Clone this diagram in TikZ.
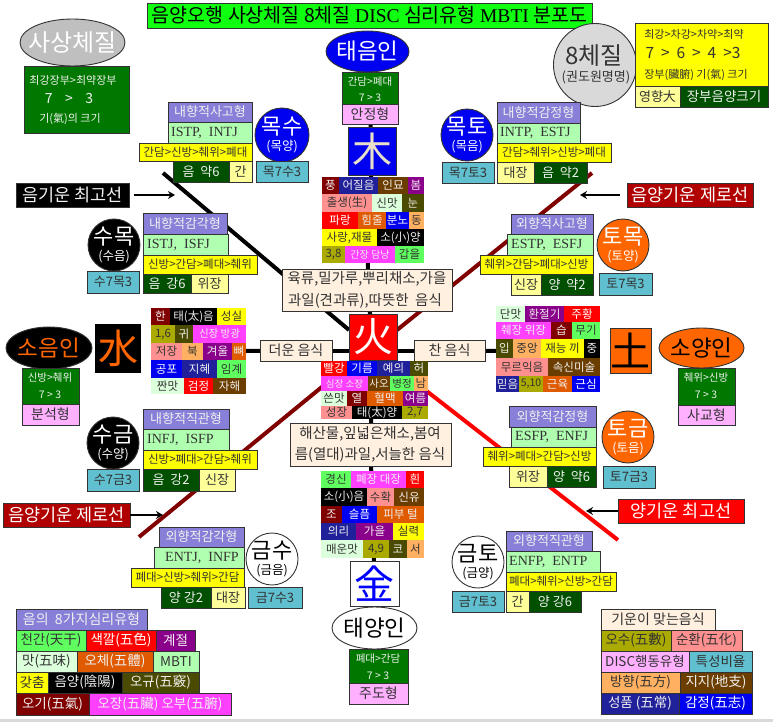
\documentclass[tikz,border=0pt]{standalone}
\usepackage{fontspec}
\setmainfont{Noto Sans CJK KR}
\newfontfamily\serifl{Liberation Serif}
\usetikzlibrary{arrows.meta,backgrounds,shapes.geometric}
\definecolor{dkred}{HTML}{B00000}\definecolor{maroon}{HTML}{800000}\definecolor{navyb}{HTML}{20209A}
\definecolor{brownb}{HTML}{6B3E00}\definecolor{purpleb}{HTML}{8B008B}\definecolor{salmonb}{HTML}{FF9090}
\definecolor{mintb}{HTML}{DCFFDC}\definecolor{oliveb}{HTML}{4A4A00}\definecolor{orngb}{HTML}{E05A00}
\definecolor{apricot}{HTML}{FFB060}\definecolor{khakib}{HTML}{AAAA00}\definecolor{pinkb}{HTML}{FF40FF}
\definecolor{limeb}{HTML}{60FF60}\definecolor{lgreen}{HTML}{B0FFB0}\definecolor{ltyel}{HTML}{FFFF99}
\definecolor{dgreen}{HTML}{005000}\definecolor{greenb}{HTML}{007800}\definecolor{lpink}{HTML}{FFB0FF}
\definecolor{cyanb}{HTML}{60C0D0}\definecolor{lav}{HTML}{8880D8}\definecolor{cream}{HTML}{FFF0E0}
\definecolor{borange}{HTML}{FF6600}\definecolor{inkc}{HTML}{333333}\definecolor{bluec}{HTML}{0000F0}
\definecolor{redc}{HTML}{FF0000}\definecolor{yelc}{HTML}{FFFF00}\definecolor{ttl}{HTML}{10FF10}
\definecolor{beige}{HTML}{E8E0C8}\definecolor{lwhite}{HTML}{F0F0F0}
\tikzset{
 base/.style={inner sep=0pt,outer sep=0pt,rectangle},
 cellbox/.style={base},
 labelbox/.style={base,draw=inkc,line width=0.9pt},
 cmaroon/.style={fill=maroon,text=lwhite},cnavy/.style={fill=navyb,text=lwhite},cbrown/.style={fill=brownb,text=lwhite},
 cpurple/.style={fill=purpleb,text=lwhite},csalmon/.style={fill=salmonb,text=inkc},cmint/.style={fill=mintb,text=inkc},
 colive/.style={fill=oliveb,text=lwhite},corng/.style={fill=orngb,text=lwhite},capricot/.style={fill=apricot,text=inkc},
 ckhaki/.style={fill=khakib,text=inkc},cpink/.style={fill=pinkb,text=lwhite},clime/.style={fill=limeb,text=inkc},
 clgreen/.style={fill=lgreen,text=inkc},cltyel/.style={fill=ltyel,text=inkc},cdgreen/.style={fill=dgreen,text=lwhite},
 cgreen/.style={fill=greenb,text=lwhite},clpink/.style={fill=lpink,text=inkc},ccyan/.style={fill=cyanb,text=inkc},
 clav/.style={fill=lav,text=lwhite},ccream/.style={fill=cream,text=inkc},cred/.style={fill=redc,text=white},
 cblue/.style={fill=bluec,text=white},cyel/.style={fill=yelc,text=inkc},cblack/.style={fill=black,text=lwhite},
 cdkred/.style={fill=dkred,text=white},cttl/.style={fill=ttl,text=black},cwhite/.style={fill=white,text=blue},
 cbor/.style={fill=borange,text=white},cbork/.style={fill=borange,text=black},
 cbeige/.style={fill=bluec,text=beige},cwk/.style={fill=white,text=black},cgray/.style={fill=black!25,text=white},
 cblackor/.style={fill=black,text=borange},cg2/.style={fill=black!15,text=inkc},
 spine/.style={draw=black,line width=4pt},
 blackline/.style={draw=black,line width=4pt},
 maroonline/.style={draw=maroon,line width=4pt},
 redline/.style={draw=redc,line width=4pt},
 pointer/.style={draw=black,line width=2.6pt,-{Stealth[length=7pt,width=8pt]}},
 oval/.style={ellipse,inner sep=0pt,outer sep=0pt,draw=inkc,line width=0.9pt},
 ball/.style={circle,inner sep=0pt,outer sep=0pt,draw=inkc,line width=0.9pt},
}
\newcounter{bxc}
% named box: name x0 y0 x1 y1 style size text
\newcommand\nbx[8]{\node[#6,name=#1,minimum width={(#4-#2)*1pt},minimum height={(#5-#3)*1pt}] at ({(#2+#4)/2},{(#3+#5)/2}) {\fontsize{#7}{#7}\selectfont #8};}
\newcommand\bx[7]{\stepcounter{bxc}\nbx{b\thebxc}{#1}{#2}{#3}{#4}{labelbox,#5}{#6}{#7}}
\newcommand\cl[6][11.5]{\stepcounter{bxc}\nbx{c\thebxc}{#2}{#3}{#4}{#5}{cellbox,#6}{#1}}
\newcommand\tx[5]{\stepcounter{bxc}\node[inner sep=0pt,text=#3,name=t\thebxc] at (#1,#2) {\fontsize{#4}{#4}\selectfont #5};}
\newcommand\lx[3]{\stepcounter{bxc}\node[inner sep=0pt,text=inkc,anchor=west,name=t\thebxc] at (#1,#2) {\fontsize{14}{14}\selectfont\serifl #3};}
\newcommand\ovl[7]{\node[oval,#5,name=#6,minimum width={#3*1pt},minimum height={#4*1pt}] at (#1,#2) {};\stepcounter{bxc}\node[inner sep=0pt,#5,fill=none,name=t\thebxc] at (#1,#2) {\fontsize{22.5}{22.5}\selectfont #7};}
\newcommand\bll[9]{\node[ball,#4,name=#5,minimum size={#3*2pt}] at (#1,#2) {};\stepcounter{bxc}\node[inner sep=0pt,name=t\thebxc,text=#6] at (#1,#2-8) {\fontsize{22}{22}\selectfont #7};\stepcounter{bxc}\node[inner sep=0pt,name=t\thebxc,text=#6] at (#1,#2+12) {\fontsize{12.5}{12.5}\selectfont #8};#9}
\begin{document}
\begin{tikzpicture}[x=1pt,y=-1pt]
\useasboundingbox (0,0) rectangle (773,722);
\fill[black!15] (0,718.5) rectangle (773,722);
% title
\bx{147}{3}{592}{28}{cttl}{19.5}{음양오행 사상체질 8체질 {\serifl DISC} 심리유형 {\serifl MBTI} 분포도}
% sasang
\ovl{72.5}{42.5}{105}{47}{cgray}{osasang}{{\fontsize{24}{24}\selectfont 사상체질}}
\bx{24}{66}{129}{133}{cgreen}{10}{}
\tx{73}{80}{lwhite}{11}{최강장부>최약장부}
\tx{69}{99}{lwhite}{14}{7 \ \ \ > \ \ \ 3}
\tx{70}{119}{lwhite}{11}{기(氣)의 크기}
% eight
\bll{595}{65}{41.5}{cg2}{oeight}{inkc}{}{}{}
\tx{594}{56}{inkc}{24}{8체질}
\tx{596}{77}{inkc}{13}{(권도원명명)}
\bx{635}{23}{768}{86}{cyel}{10}{}
\tx{694}{34}{inkc}{11}{최강>차강>차약>최약}
\tx{693}{53}{inkc}{15.5}{7 \ > \ 6 \ > \ 4 \ >3}
\tx{696}{75}{inkc}{11}{장부(臟腑) 기(氣) 크기}
\bx{635}{86}{680}{107}{cltyel}{13}{영향大}
\bx{680}{86}{768}{107}{cdgreen}{13.5}{장부음양크기}
% taeeum
\ovl{367.5}{51.5}{83}{41}{cblue}{otaeeum}{태음인}
\bx{342}{72}{398}{104}{cgreen}{11}{}
\tx{370}{82}{lwhite}{10.5}{간담>폐대}
\tx{370}{98}{lwhite}{10.5}{7 > 3}
\nbx{anjeong}{342}{104}{398}{124}{labelbox,clpink}{14}{안정형}
\nbx{mok}{348}{127}{396}{175}{labelbox,cbeige}{40}{木}
% wood grid
\cl{322}{177}{339}{194}{cmaroon}{풍}\cl{339}{177}{378}{194}{cnavy}{어질음}\cl{378}{177}{408}{194}{cbrown}{인묘}\cl{408}{177}{424}{194}{cpurple}{봄}
\cl{322}{194}{372}{212}{csalmon}{출생(生)}\cl{372}{194}{402}{212}{cmint}{신맛}\cl{402}{194}{424}{212}{colive}{눈}
\cl{322}{212}{358}{229}{cred}{파랑}\cl{358}{212}{386}{229}{corng}{힘줄}\cl{386}{212}{409}{229}{cblue}{분노}\cl{409}{212}{424}{229}{capricot}{동}
\cl{322}{229}{377}{246}{cyel}{사랑,재물}\cl{377}{229}{424}{246}{cblack}{소(小)양}
\cl{322}{246}{345}{263}{ckhaki}{3,8}\cl[10]{345}{246}{395}{263}{cpink}{간장 담낭}\cl{395}{246}{424}{263}{clime}{갑을}
% food top
\nbx{foodtop}{282}{269}{452}{311}{labelbox,ccream}{8}{}
\tx{367}{279}{inkc}{14.5}{육류,밀가루,뿌리채소,가을}
\tx{365}{301}{inkc}{14.5}{과일(견과류),따뜻한 \ 음식}
\nbx{hwa}{349}{314}{397}{360}{labelbox,cred}{40}{火}
\nbx{hot}{260}{340}{332}{361}{labelbox,ccream}{14}{더운 음식}
\nbx{cold}{414}{340}{485}{361}{labelbox,ccream}{14}{찬 음식}
% fire grid
\cl{321}{361}{347}{376}{cred}{빨강}\cl{347}{361}{377}{376}{cblue}{기름}\cl{377}{361}{410}{376}{cnavy}{예의}\cl{410}{361}{428}{376}{colive}{허}
\cl[9.5]{321}{376}{368}{391}{cpink}{심장 소장}\cl[10.5]{368}{376}{390}{391}{cbrown}{사오}\cl[10.5]{390}{376}{414}{391}{clime}{병정}\cl{414}{376}{428}{391}{capricot}{남}
\cl{321}{391}{347}{406}{cmint}{쓴맛}\cl{347}{391}{367}{406}{cmaroon}{열}\cl{367}{391}{403}{406}{corng}{혈맥}\cl{403}{391}{428}{406}{cpurple}{여름}
\cl{321}{406}{352}{419}{csalmon}{성장}\cl{352}{406}{402}{419}{cblack}{태(太)양}\cl{402}{406}{428}{419}{ckhaki}{2,7}
% food low
\nbx{foodlow}{290}{423}{451}{466}{labelbox,ccream}{8}{}
\tx{370}{434}{inkc}{14.5}{해산물,잎넓은채소,봄여}
\tx{370}{455}{inkc}{14.5}{름(열대)과일,서늘한 음식}
% metal grid
\cl{321}{471}{351}{488}{clime}{경신}\cl{351}{471}{406}{488}{cpink}{폐장 대장}\cl{406}{471}{424}{488}{cred}{흰}
\cl{321}{488}{367}{506}{cblack}{소(小)음}\cl{367}{488}{394}{506}{csalmon}{수확}\cl{394}{488}{424}{506}{cbrown}{신유}
\cl{321}{506}{342}{523}{cmaroon}{조}\cl{342}{506}{377}{523}{cblue}{슬픔}\cl{377}{506}{424}{523}{corng}{피부 털}
\cl{321}{523}{356}{540}{cnavy}{의리}\cl{356}{523}{393}{540}{cpurple}{가을}\cl{393}{523}{424}{540}{cyel}{실력}
\cl{321}{540}{363}{558}{cmint}{매운맛}\cl{363}{540}{389}{558}{ckhaki}{4,9}\cl{389}{540}{407}{558}{colive}{코}\cl{407}{540}{424}{558}{capricot}{서}
\nbx{geum}{350}{561}{399}{606}{labelbox,cwhite}{40}{金}
\ovl{374.5}{628}{85}{42}{cwk}{otaeyang}{태양인}
\bx{349}{649}{408}{683}{cgreen}{11}{}
\tx{378}{659}{lwhite}{10.5}{폐대>간담}
\tx{378}{676}{lwhite}{10.5}{7 > 3}
\bx{349}{683}{408}{704}{clpink}{14}{주도형}
% water
\cl{151}{308}{170}{325}{cmaroon}{한}\cl{170}{308}{217}{325}{cblack}{태(太)음}\cl{217}{308}{246}{325}{cyel}{성실}
\cl{151}{325}{175}{343}{ckhaki}{1,6}\cl{175}{325}{193}{343}{colive}{귀}\cl[10.5]{193}{325}{246}{343}{cpink}{신장 방광}
\cl{151}{343}{182}{360}{csalmon}{저장}\cl{182}{343}{203}{360}{capricot}{북}\cl{203}{343}{232}{360}{cpurple}{겨울}\cl{232}{343}{246}{360}{corng}{뼈}
\cl{151}{360}{182}{378}{cblue}{공포}\cl{182}{360}{217}{378}{cnavy}{지혜}\cl{217}{360}{246}{378}{clime}{임계}
\cl{151}{378}{184}{394}{cmint}{짠맛}\cl{184}{378}{213}{394}{cred}{검정}\cl{213}{378}{246}{394}{cbrown}{자해}
\coordinate (watergrid) at (246,351);
\nbx{su}{95}{324}{141}{373}{cellbox,cblackor}{40}{水}
\ovl{49}{348}{86}{42}{cblackor}{osoeum}{소음인}
\bx{22}{368}{79}{404}{cgreen}{11}{}
\tx{50}{378}{lwhite}{10.5}{신방>췌위}
\tx{50}{395}{lwhite}{10.5}{7 > 3}
\bx{22}{404}{79}{425}{clpink}{14}{분석형}
% earth
\cl{496}{306}{525}{322}{cmint}{단맛}\cl{525}{306}{564}{322}{cpurple}{환절기}\cl{564}{306}{600}{322}{cred}{주황}
\cl{496}{322}{551}{339}{cpink}{췌장 위장}\cl{551}{322}{572}{339}{cmaroon}{습}\cl{572}{322}{600}{339}{clime}{무기}
\cl{496}{339}{513}{358}{colive}{입}\cl{513}{339}{541}{358}{capricot}{중앙}\cl{541}{339}{584}{358}{cyel}{재능 끼}\cl{584}{339}{600}{358}{cblack}{중}
\cl{496}{358}{548}{376}{csalmon}{무르익음}\cl{548}{358}{600}{376}{cbrown}{속신미술}
\cl{496}{376}{519}{392}{cnavy}{믿음}\cl[10.5]{519}{376}{543}{392}{ckhaki}{5,10}\cl{543}{376}{572}{392}{corng}{근육}\cl{572}{376}{600}{392}{cblue}{근심}
\coordinate (earthgrid) at (496,351);
\nbx{to}{610}{328}{651}{373}{labelbox,cbork}{40}{土}
\ovl{701.5}{348}{85}{40}{cbork}{osoyang}{소양인}
\bx{678}{368}{735}{405}{cgreen}{11}{}
\tx{706}{378}{lwhite}{10.5}{췌위>신방}
\tx{706}{395}{lwhite}{10.5}{7 > 3}
\bx{678}{405}{735}{425}{clpink}{14}{사교형}
% cluster mok-su
\bx{168}{102}{252}{122}{clav}{13}{내향적사고형}
\bx{168}{122}{252}{143}{clgreen}{14}{}
\lx{171}{133}{ISTP,\ \ INTJ}
\bx{139}{143}{252}{161}{cyel}{11.5}{간담>신방>췌위>폐대}
\bx{173}{161}{229}{182}{cdgreen}{13}{음 \ 약6}
\bx{229}{161}{252}{182}{cltyel}{13}{간}
\bll{282}{135}{27}{cblue}{bmoksu}{white}{목수}{(목양)}{}
\bx{256}{161}{308}{182}{ccyan}{13}{목7수3}
% cluster mok-to
\bx{497}{102}{580}{123}{clav}{13}{내향적감정형}
\bx{497}{123}{580}{143}{clgreen}{14}{}
\lx{500}{133}{INTP,\ \ ESTJ}
\bx{497}{143}{611}{162}{cyel}{11.5}{간담>췌위>신방>폐대}
\bx{497}{162}{534}{183}{cltyel}{13}{대장}
\bx{534}{162}{587}{183}{cdgreen}{13}{음 \ 약2}
\bll{467}{135}{26}{cblue}{bmokto}{white}{목토}{(목음)}{}
\bx{442}{162}{494}{183}{ccyan}{13}{목7토3}
% labels
\nbx{lowtop}{16}{183}{129}{207}{labelbox,cblack}{17.5}{음기운 최고선}
\nbx{zeroR}{627}{183}{753}{207}{labelbox,cdkred}{17.5}{음양기운 제로선}
\nbx{zeroL}{3}{503}{130}{527}{labelbox,cdkred}{17.5}{음양기운 제로선}
\nbx{yangtop}{618}{499}{744}{523}{labelbox,cred}{17.5}{양기운 최고선}
% su-mok
\bx{143}{213}{227}{234}{clav}{13}{내향적감각형}
\bx{143}{234}{228}{255}{clgreen}{14}{}
\lx{147}{245}{ISTJ,\ \ ISFJ}
\bx{143}{255}{257}{274}{cyel}{11.5}{신방>간담>폐대>췌위}
\bx{143}{274}{191}{293}{cdgreen}{13}{음 \ 강6}
\bx{191}{274}{228}{293}{cltyel}{13}{위장}
\bll{114}{245}{26}{cblack}{bsumok}{white}{수목}{(수음)}{}
\bx{87}{271}{139}{293}{ccyan}{13}{수7목3}
% su-geum
\bx{143}{409}{229}{429}{clav}{13}{내향적직관형}
\bx{143}{429}{229}{450}{clgreen}{14}{}
\lx{147}{440}{INFJ,\ \ ISFP}
\bx{143}{450}{257}{469}{cyel}{11.5}{신방>폐대>간담>췌위}
\bx{143}{469}{199}{491}{cdgreen}{13}{음 \ 강2}
\bx{199}{469}{235}{491}{cltyel}{13}{신장}
\bll{113}{443}{26}{cblack}{bsugeum}{white}{수금}{(수양)}{}
\bx{87}{469}{139}{491}{ccyan}{13}{수7금3}
% geum-su
\bx{159}{527}{244}{547}{clav}{13}{외향적감각형}
\bx{154}{547}{244}{568}{clgreen}{14}{}
\lx{165}{558}{ENTJ,\ \ INFP}
\bx{131}{568}{244}{587}{cyel}{11.5}{폐대>신방>췌위>간담}
\bx{161}{587}{211}{608}{cdgreen}{13}{양 강2}
\bx{211}{587}{245}{608}{cltyel}{13}{대장}
\bll{272}{559}{26}{cwk}{bgeumsu}{black}{금수}{(금음)}{}
\bx{248}{587}{302}{608}{ccyan}{13}{금7수3}
% geum-to
\bx{506}{531}{592}{551}{clav}{13}{외향적직관형}
\bx{506}{551}{600}{572}{clgreen}{14}{}
\lx{509}{562}{ENFP,\ \ ENTP}
\bx{506}{572}{616}{591}{cyel}{11.5}{폐대>췌위>신방>간담}
\bx{506}{591}{529}{612}{cltyel}{13}{간}
\bx{529}{591}{581}{612}{cdgreen}{13}{양 강6}
\bll{478}{562}{26}{cwk}{bgeumto}{black}{금토}{(금양)}{}
\bx{452}{591}{504}{612}{ccyan}{13}{금7토3}
% to-geum
\bx{509}{406}{596}{427}{clav}{13}{외향적감정형}
\bx{511}{427}{596}{447}{clgreen}{14}{}
\lx{515}{437}{ESFP,\ \ ENFJ}
\bx{483}{447}{596}{466}{cyel}{11.5}{췌위>폐대>간담>신방}
\bx{509}{466}{547}{487}{cltyel}{13}{위장}
\bx{547}{466}{596}{487}{cdgreen}{13}{양 \ 약6}
\bll{628}{437}{26}{cbor}{btogeum}{white}{토금}{(토음)}{}
\bx{603}{466}{655}{488}{ccyan}{13}{토7금3}
% to-mok
\bx{511}{214}{593}{234}{clav}{13}{외향적사고형}
\bx{507}{234}{593}{255}{clgreen}{14}{}
\lx{511}{245}{ESTP,\ \ ESFJ}
\bx{480}{255}{593}{274}{cyel}{11.5}{췌위>간담>폐대>신방}
\bx{511}{274}{541}{295}{cltyel}{13}{신장}
\bx{541}{274}{593}{295}{cdgreen}{13}{양 \ 약2}
\bll{623}{245}{26}{cbor}{btomok}{white}{토목}{(토양)}{}
\bx{599}{273}{652}{295}{ccyan}{13}{토7목3}
% legends
\bx{16}{609}{147}{630}{clav}{14}{음의 \ 8가지심리유형}
\bx{16}{630}{86}{651}{clime}{13.5}{천간(天干)}
\bx{86}{630}{156}{651}{cred}{13.5}{색깔(五色)}
\bx{156}{630}{195}{651}{cpurple}{13.5}{계절}
\bx{16}{651}{77}{672}{cmint}{13.5}{맛(五味)}
\bx{77}{651}{153}{672}{corng}{13.5}{오체(五體)}
\bx{153}{651}{199}{672}{clgreen}{13.5}{MBTI}
\bx{16}{672}{48}{693}{cyel}{13.5}{갖춤}
\bx{48}{672}{122}{693}{cblack}{13.5}{음양(陰陽)}
\bx{122}{672}{199}{693}{colive}{13.5}{오규(五竅)}
\bx{16}{693}{89}{715}{cmaroon}{13.5}{오기(五氣)}
\bx{89}{693}{231}{715}{cpink}{13.5}{오장(五臟) 오부(五腑)}
\bx{601}{609}{715}{630}{ccream}{14}{기운이 맞는음식}
\bx{601}{630}{671}{651}{ckhaki}{13.5}{오수(五數)}
\bx{671}{630}{742}{651}{csalmon}{13.5}{순환(五化)}
\bx{601}{651}{689}{672}{clpink}{13.5}{DISC행동유형}
\bx{689}{651}{752}{672}{ccyan}{13.5}{특성비율}
\bx{601}{672}{680}{693}{capricot}{13.5}{방향(五方)}
\bx{680}{672}{752}{693}{cbrown}{13.5}{지지(地支)}
\bx{601}{693}{679}{714}{cnavy}{13.5}{성품 (五常)}
\bx{679}{693}{752}{714}{cblue}{13.5}{감정(五志)}
% connectors
\coordinate (blackA) at (163,173); \coordinate (blackB) at (349,330);
\coordinate (mrA) at (592,173); \coordinate (mrB) at (397,330);
\coordinate (mlA) at (139,537); \coordinate (mlB) at (345,368);
\coordinate (rdA) at (618,540); \coordinate (rdB) at (397,368);
\coordinate (arr1) at (175,195); \coordinate (arr2) at (580,194);
\coordinate (arr3) at (163,515); \coordinate (arr4) at (586,512);
\begin{scope}[on background layer]
\draw[blackline] (blackA) -- (blackB);
\draw[maroonline] (mrA) -- (mrB);
\draw[maroonline] (mlA) -- (mlB);
\draw[redline] (rdA) -- (rdB);
\draw[spine] (anjeong.center) -- (mok.center);
\draw[spine] (mok.center) -- (foodtop.center);
\draw[spine] (foodtop.center) -- (hwa.center);
\draw[spine] (hwa.center) -- (foodlow.center);
\draw[spine] (foodlow.center) -- (geum.center);
\draw[spine] (watergrid) -- (hot.center);
\draw[spine] (hot.center) -- (cold.center);
\draw[spine] (cold.center) -- (earthgrid);
\end{scope}
\draw[pointer] ([xshift=5pt]lowtop.east) -- (lowtop.east -| arr1);
\draw[pointer] ([xshift=-7pt]zeroR.west) -- (zeroR.west -| arr2);
\draw[pointer] (zeroL.east) -- (zeroL.east -| arr3);
\draw[pointer] (yangtop.west) -- (yangtop.west -| arr4);
\end{tikzpicture}
\end{document}
